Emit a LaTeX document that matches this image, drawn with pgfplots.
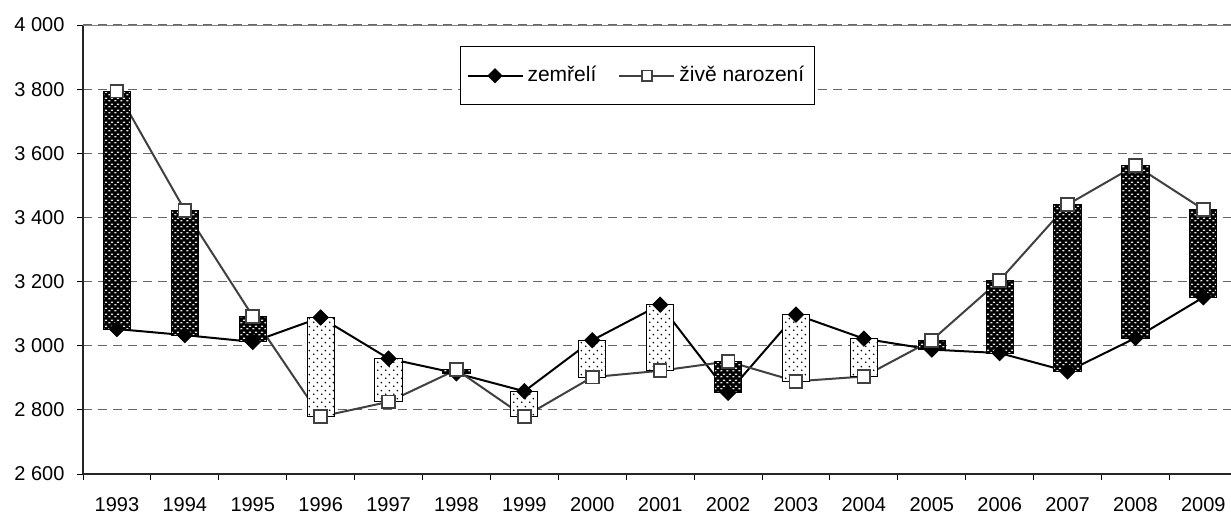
\documentclass[border=0pt]{standalone}
\usepackage{fontspec}
\setmainfont{Liberation Sans}
\usepackage{pgfplots}
\usepackage{pgfplotstable}
\pgfplotsset{compat=1.18}
\usetikzlibrary{patterns}

\pgfdeclarepatternformonly{darkdash}{\pgfqpoint{0pt}{0pt}}{\pgfqpoint{3pt}{3pt}}{\pgfqpoint{3pt}{3pt}}{%
  \pgfpathrectangle{\pgfqpoint{0.15pt}{0.35pt}}{\pgfqpoint{1.3pt}{0.7pt}}%
  \pgfpathrectangle{\pgfqpoint{1.65pt}{1.85pt}}{\pgfqpoint{1.3pt}{0.7pt}}%
  \pgfusepath{fill}}
\pgfdeclarepatternformonly{lightdots}{\pgfqpoint{0pt}{0pt}}{\pgfqpoint{4pt}{4pt}}{\pgfqpoint{4pt}{4pt}}{%
  \pgfpathcircle{\pgfqpoint{1pt}{1pt}}{0.5pt}%
  \pgfpathcircle{\pgfqpoint{3pt}{3pt}}{0.5pt}%
  \pgfusepath{fill}}

\pgfplotstableread{
x  year d    b
0  1993 3052 3794
1  1994 3033 3422
2  1995 3012 3092
3  1996 3088 2779
4  1997 2960 2825
5  1998 2914 2925
6  1999 2858 2779
7  2000 3017 2902
8  2001 3128 2922
9  2002 2853 2951
10 2003 3097 2889
11 2004 3022 2904
12 2005 2988 3017
13 2006 2977 3204
14 2007 2920 3440
15 2008 3024 3562
16 2009 3151 3425
}\data

\tikzset{
  darkbar/.style={draw=black, line width=0.5pt, fill=black, postaction={pattern=darkdash, pattern color=black!10}},
  lightbar/.style={draw=black, line width=0.5pt, fill=white, postaction={pattern=lightdots, pattern color=black}},
}
\pgfplotsset{
  frame/.style={at={(0,0)}, anchor=south west,
    scale only axis, width=574pt, height=224.5pt,
    xmin=-0.5, xmax=16.407, ymin=2600, ymax=4000},
}

\begin{document}
\begin{tikzpicture}
\useasboundingbox (-41.5pt,-20.5pt) rectangle (574pt,237pt);
% base axis: grid, ticks, lines, legend
\begin{axis}[
  frame,
  axis x line*=bottom, axis y line*=left,
  axis line style={black!85, line width=0.8pt},
  xtick={0,...,16},
  xticklabels={1993,1994,1995,1996,1997,1998,1999,2000,2001,2002,2003,2004,2005,2006,2007,2008,2009},
  minor xtick={-0.5,0.5,...,15.5},
  ytick={2600,2800,...,4000},
  minor ytick={2600,2800,...,4000},
  major tick length=0.01pt, minor tick length=3pt,
  tick align=outside,
  major tick style={draw=none},
  minor tick style={black, line width=0.5pt},
  ymajorgrids,
  major grid style={black!60, line width=0.6pt, dash pattern=on 4.5pt off 3pt},
  /pgf/number format/1000 sep={\ },
  /pgf/number format/assume math mode=true,
  tick label style={font=\fontsize{10}{12}\selectfont},
  yticklabel style={xshift=-5.7pt},
  xticklabel style={yshift=-8.4pt},
  legend columns=2,
  legend style={at={(axis description cs:0.3284,0.9532)}, anchor=north west,
    draw=black, line width=0.5pt, font=\fontsize{10.5}{12.5}\selectfont,
    inner xsep=3pt, inner ysep=8pt,
    /tikz/every even column/.append style={column sep=9pt}},
  legend image code/.code={\draw[mark repeat=2,mark phase=2] plot coordinates {(0pt,0pt) (13.75pt,0pt) (27.5pt,0pt)};},
]
\draw[black!50, line width=1pt] (rel axis cs:0,1) -- (rel axis cs:1,1);
\addplot[forget plot, black, line width=1pt] table[x=x, y=d] {\data};
\addplot[forget plot, black!75, line width=1pt] table[x=x, y=b] {\data};
\addlegendimage{black, line width=1pt, mark=square*, mark size=2.2pt, mark options={rotate=45, fill=black, draw=black}}
\addlegendentry{zemřelí}
\addlegendimage{black!75, line width=1pt, mark=square*, mark size=2.6pt, mark options={fill=white, draw=black!75, line width=0.9pt}}
\addlegendentry{živě narození}
\end{axis}
% up-down bars
\begin{axis}[frame, hide axis, ybar stacked, bar width=13.58pt]
\addplot[draw=none, fill=none] table[x=x, y expr={min(\thisrow{d},\thisrow{b})}] {\data};
\addplot[darkbar] table[x=x, y expr={max(\thisrow{b}-\thisrow{d},0)}] {\data};
\addplot[lightbar] table[x=x, y expr={max(\thisrow{d}-\thisrow{b},0)}] {\data};
\end{axis}
% markers
\begin{axis}[frame, hide axis, clip=false]
\addplot[only marks, mark=square*, mark size=2.7pt,
  mark options={rotate=45, fill=black, draw=black}] table[x=x, y=d] {\data};
\addplot[only marks, mark=square*, mark size=3.2pt,
  mark options={fill=white, draw=black!75, line width=0.9pt}] table[x=x, y=b] {\data};
\end{axis}
\end{tikzpicture}
\end{document}
